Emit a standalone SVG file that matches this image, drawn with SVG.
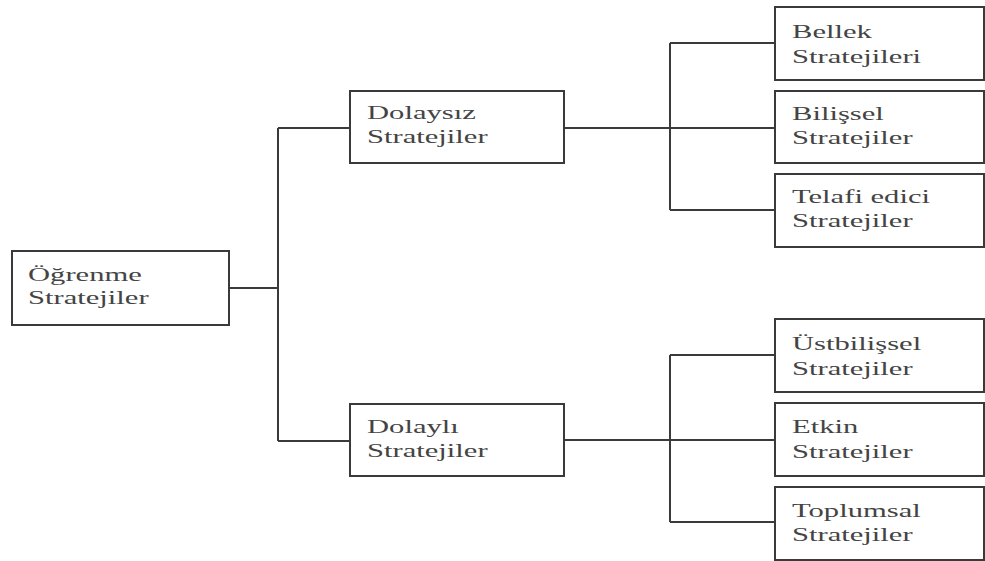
<svg xmlns="http://www.w3.org/2000/svg" width="985" height="561" viewBox="0 0 985 561">
<style>
.box{fill:#fff;stroke:#3a3a3a;stroke-width:2}
.ln{fill:none;stroke:#3a3a3a;stroke-width:2}
text{font-family:"Liberation Serif","Times New Roman",serif;font-size:18px;fill:#444}
</style>
<rect width="985" height="561" fill="#fff"/>
<g id="connectors">
<path class="ln" d="M229,288 H278 M278,128 V441 M278,128 H350 M278,441 H350"/>
<path class="ln" d="M564,128 H775 M670,43 V210 M670,43 H775 M670,210 H775"/>
<path class="ln" d="M564,440 H775 M670,355 V522 M670,355 H775 M670,522 H775"/>
</g>
<g id="root">
<rect class="box" x="12" y="251" width="217" height="74"/>
<text transform="translate(28,281) scale(1.7,1)">Öğrenme</text>
<text transform="translate(28,304) scale(1.7,1)">Stratejiler</text>
</g>
<g id="dolaysiz">
<rect class="box" x="350" y="91" width="214" height="72"/>
<text transform="translate(367,119) scale(1.7,1)">Dolaysız</text>
<text transform="translate(367,143) scale(1.7,1)">Stratejiler</text>
</g>
<g id="dolayli">
<rect class="box" x="350" y="404" width="214" height="72"/>
<text transform="translate(367,433) scale(1.7,1)">Dolaylı</text>
<text transform="translate(367,457) scale(1.7,1)">Stratejiler</text>
</g>
<g id="bellek">
<rect class="box" x="775" y="7" width="209" height="73"/>
<text transform="translate(792,38) scale(1.7,1)">Bellek</text>
<text transform="translate(792,63) scale(1.7,1)">Stratejileri</text>
</g>
<g id="bilissel">
<rect class="box" x="775" y="91" width="209" height="72"/>
<text transform="translate(792,120) scale(1.7,1)">Bilişsel</text>
<text transform="translate(792,144) scale(1.7,1)">Stratejiler</text>
</g>
<g id="telafi">
<rect class="box" x="775" y="174" width="209" height="73"/>
<text transform="translate(792,203) scale(1.7,1)">Telafi edici</text>
<text transform="translate(792,227) scale(1.7,1)">Stratejiler</text>
</g>
<g id="ustbilissel">
<rect class="box" x="775" y="319" width="209" height="73"/>
<text transform="translate(792,350) scale(1.7,1)">Üstbilişsel</text>
<text transform="translate(792,375) scale(1.7,1)">Stratejiler</text>
</g>
<g id="etkin">
<rect class="box" x="775" y="403" width="209" height="73"/>
<text transform="translate(792,433) scale(1.7,1)">Etkin</text>
<text transform="translate(792,458) scale(1.7,1)">Stratejiler</text>
</g>
<g id="toplumsal">
<rect class="box" x="775" y="487" width="209" height="73"/>
<text transform="translate(792,517) scale(1.7,1)">Toplumsal</text>
<text transform="translate(792,541) scale(1.7,1)">Stratejiler</text>
</g>
</svg>
